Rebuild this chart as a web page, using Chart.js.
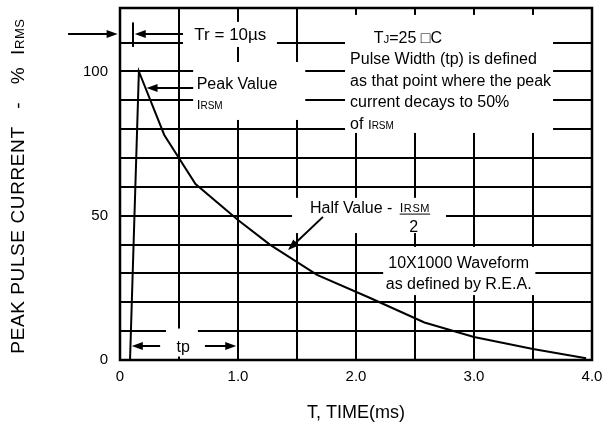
<!DOCTYPE html>
<html>
<head>
<meta charset="utf-8">
<script src="https://cdn.jsdelivr.net/npm/chart.js@4"></script>
<style>
  html, body { margin: 0; padding: 0; background: #fff; }
</style>
</head>
<body>
<canvas id="pulseChart" width="609" height="428"></canvas>
<script>
// --- Data ---
const timeMs = [0.085, 0.16, 0.375, 0.64, 1.0, 1.27, 1.67, 2.12, 2.58, 3.0, 3.5, 3.95];
const currentPct = [0, 100, 78, 61, 48.5, 40, 29.5, 21.5, 13, 8, 3.8, 0.6];
const xTickLabels = ['0', '1.0', '2.0', '3.0', '4.0'];
const yTickLabels = ['0', '50', '100'];
const yGridValues = [0, 10, 20, 30, 40, 50, 60, 70, 80, 90, 100, 110, 122];

const FONT = "'Liberation Sans', Arial, sans-serif";

// draw text made of pieces with different sizes on one baseline
function richText(ctx, parts, x, y, align) {
  let total = 0;
  parts.forEach(([txt, size]) => { ctx.font = size + 'px ' + FONT; total += ctx.measureText(txt).width; });
  let cx = align === 'center' ? x - total / 2 : x;
  parts.forEach(([txt, size]) => {
    ctx.font = size + 'px ' + FONT;
    ctx.fillText(txt, cx, y);
    cx += ctx.measureText(txt).width;
  });
  return total;
}

function arrow(ctx, x0, y0, x1, y1) {
  const ang = Math.atan2(y1 - y0, x1 - x0);
  const len = 11, half = 4;
  ctx.beginPath();
  ctx.moveTo(x0, y0);
  ctx.lineTo(x1 - Math.cos(ang) * len * 0.8, y1 - Math.sin(ang) * len * 0.8);
  ctx.stroke();
  ctx.beginPath();
  ctx.moveTo(x1, y1);
  ctx.lineTo(x1 - Math.cos(ang) * len + Math.sin(ang) * half, y1 - Math.sin(ang) * len - Math.cos(ang) * half);
  ctx.lineTo(x1 - Math.cos(ang) * len - Math.sin(ang) * half, y1 - Math.sin(ang) * len + Math.cos(ang) * half);
  ctx.closePath();
  ctx.fill();
}

// --- Annotations (white label boxes, arrows, notes) ---
const annotate = {
  id: 'annotate',
  beforeDatasetsDraw(chart) {
    const { ctx, scales: { x, y }, chartArea: a } = chart;
    ctx.save();
    ctx.strokeStyle = '#000';
    ctx.lineWidth = 2.5;
    ctx.strokeRect(a.left, a.top, a.right - a.left, a.bottom - a.top);

    // white backgrounds behind the notes (data units: t0, v0, t1, v1)
    const boxes = [
      [0.534, 117.2, 1.33, 108.5],
      [0.62, 103.3, 1.57, 83.2],
      [1.907, 119.6, 3.67, 78.7],
      [1.458, 56.2, 2.763, 44],
      [2.23, 39.2, 3.52, 22.5],
      [0.39, 10.9, 0.66, 1.2]
    ];
    ctx.fillStyle = '#fff';
    boxes.forEach(([t0, v0, t1, v1]) => {
      const x0 = x.getPixelForValue(t0), x1 = x.getPixelForValue(t1);
      const y0 = y.getPixelForValue(v0), y1 = y.getPixelForValue(v1);
      ctx.fillRect(x0, y0, x1 - x0, y1 - y0);
    });
    ctx.restore();
  },
  afterDatasetsDraw(chart) {
    const { ctx, scales: { x, y } } = chart;
    const X = v => x.getPixelForValue(v), Y = v => y.getPixelForValue(v);
    ctx.save();
    ctx.fillStyle = '#000';
    ctx.strokeStyle = '#000';
    ctx.lineWidth = 2;
    ctx.textBaseline = 'alphabetic';
    ctx.textAlign = 'left';

    // Tr arrows
    arrow(ctx, X(-0.44), Y(113), X(-0.02), Y(113));
    ctx.beginPath(); ctx.moveTo(X(0.11), Y(117)); ctx.lineTo(X(0.11), Y(108.5)); ctx.stroke();
    arrow(ctx, X(0.534), Y(113), X(0.125), Y(113));
    richText(ctx, [['Tr = 10\u00b5s', 17]], X(0.63), Y(113) + 6);

    // Peak value
    arrow(ctx, X(0.62), Y(94.3), X(0.225), Y(94.3));
    richText(ctx, [['Peak Value', 16]], X(0.65), Y(96) + 6);
    richText(ctx, [['I', 13.5], ['RSM', 10]], X(0.65), Y(88.7) + 5);

    // Main note
    richText(ctx, [['T', 16], ['J', 11.5], ['=25 \u25a1C', 16]], X(2.44), Y(112) + 6, 'center');
    const lx = X(1.95);
    richText(ctx, [['Pulse Width (tp) is defined', 16]], lx, Y(104.7) + 6);
    richText(ctx, [['as that point where the peak', 16]], lx, Y(97) + 6);
    richText(ctx, [['current decays to 50%', 16]], lx, Y(89.8) + 6);
    richText(ctx, [['of ', 16], ['I', 13.5], ['RSM', 10]], lx, Y(82.1) + 6);

    // Half value
    arrow(ctx, X(1.72), Y(49.6), X(1.424), Y(38.1));
    richText(ctx, [['Half Value -', 16]], X(1.61), Y(53) + 6);
    ctx.letterSpacing = '0.6px';
    const w = richText(ctx, [['I', 13], ['RSM', 11]], X(2.37), Y(53) + 5);
    ctx.letterSpacing = '0px';
    ctx.lineWidth = 1;
    ctx.beginPath(); ctx.moveTo(X(2.37), Y(53) + 7); ctx.lineTo(X(2.37) + w, Y(53) + 7); ctx.stroke();
    ctx.lineWidth = 2;
    richText(ctx, [['2', 16]], X(2.49), Y(46.4) + 6, 'center');

    // Waveform note
    richText(ctx, [['10X1000 Waveform', 16]], X(2.87), Y(34) + 6, 'center');
    richText(ctx, [['as defined by R.E.A.', 16]], X(2.87), Y(26.7) + 6, 'center');

    // tp arrow
    arrow(ctx, X(0.34), Y(4.85), X(0.1), Y(4.85));
    arrow(ctx, X(0.72), Y(4.85), X(0.985), Y(4.85));
    richText(ctx, [['tp', 16]], X(0.535), Y(4.85) + 6, 'center');

    // y axis title with small-caps subscript
    ctx.translate(17, 186);
    ctx.rotate(-Math.PI / 2);
    ctx.letterSpacing = '0.6px';
    richText(ctx, [['PEAK PULSE CURRENT   -   %  ', 19], ['I', 19], ['RMS', 13]], 0, 7, 'center');
    ctx.restore();
  }
};

// --- Chart ---
const ctx = document.getElementById('pulseChart');
const points = timeMs.map((t, i) => ({ x: t, y: currentPct[i] }));

new Chart(ctx, {
  type: 'line',
  data: {
    datasets: [{
      data: points,
      borderColor: '#000',
      borderWidth: 2,
      pointRadius: 0,
      tension: 0,
      fill: false
    }]
  },
  options: {
    responsive: false,
    animation: false,
    layout: { padding: { top: 8, right: 17, left: 0, bottom: 0 } },
    plugins: { legend: { display: false }, tooltip: { enabled: false } },
    scales: {
      x: {
        type: 'linear',
        min: 0, max: 4,
        afterFit: s => { s.height = 68; s.paddingLeft = 0; s.paddingRight = 0; },
        grid: { color: '#000', lineWidth: 2, drawTicks: false },
        border: { display: false },
        ticks: {
          stepSize: 0.5,
          padding: 8,
          color: '#000',
          maxRotation: 0,
          autoSkip: false,
          font: { family: FONT, size: 15 },
          callback: v => (Number.isInteger(v) ? xTickLabels[v] : '')
        },
        title: {
          display: true,
          text: 'T, TIME(ms)',
          color: '#000',
          font: { family: FONT, size: 18 },
          padding: { top: 3 }
        }
      },
      y: {
        min: 0, max: 122,
        afterFit: s => { s.width = 120; s.paddingTop = 0; s.paddingBottom = 0; },
        afterBuildTicks: s => { s.ticks = yGridValues.map(v => ({ value: v })); },
        grid: { color: '#000', lineWidth: 2, drawTicks: false },
        border: { display: false },
        ticks: {
          padding: 12,
          color: '#000',
          autoSkip: false,
          font: { family: FONT, size: 15 },
          callback: v => (v % 50 === 0 && v <= 100 ? yTickLabels[v / 50] : '')
        }
      }
    }
  },
  plugins: [annotate]
});
</script>
</body>
</html>
